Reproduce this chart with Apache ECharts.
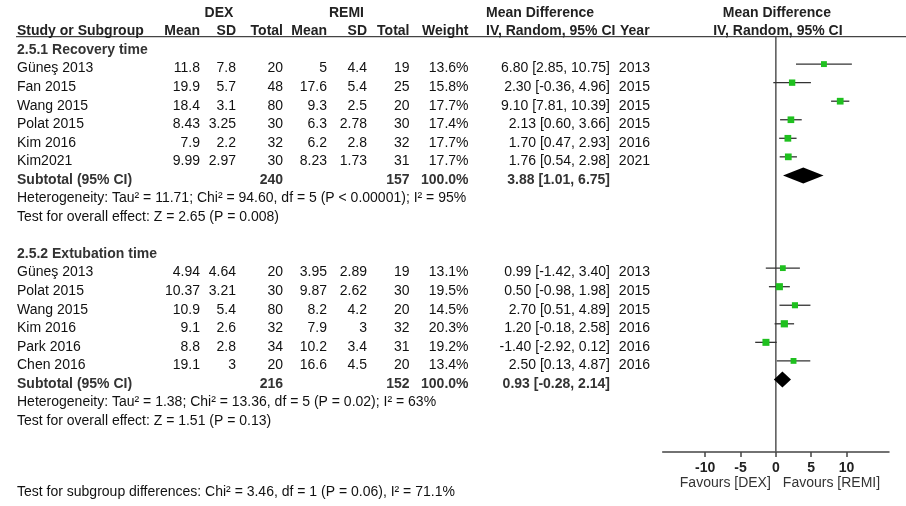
<!DOCTYPE html>
<html>
<head>
<meta charset="utf-8">
<script src="https://cdn.jsdelivr.net/npm/echarts@6/dist/echarts.min.js"></script>
<style>
html,body{margin:0;padding:0;background:#fff;}
#chart{width:906px;height:506px;}
</style>
</head>
<body>
<div id="chart"></div>
<script>
// ---------- data ----------
const groupHeaders = ['DEX', 'REMI'];
const colHeaders = ['Study or Subgroup', 'Mean', 'SD', 'Total', 'Mean', 'SD', 'Total', 'Weight', 'IV, Random, 95% CI', 'Year'];
const subgroupTitles = ['2.5.1 Recovery time', '2.5.2 Extubation time'];

const studies1 = ['Güneş 2013', 'Fan 2015', 'Wang 2015', 'Polat 2015', 'Kim 2016', 'Kim2021'];
const dexMean1 = [11.8, 19.9, 18.4, 8.43, 7.9, 9.99];
const dexSD1 = [7.8, 5.7, 3.1, 3.25, 2.2, 2.97];
const dexN1 = [20, 48, 80, 30, 32, 30];
const remiMean1 = [5, 17.6, 9.3, 6.3, 6.2, 8.23];
const remiSD1 = [4.4, 5.4, 2.5, 2.78, 2.8, 1.73];
const remiN1 = [19, 25, 20, 30, 32, 31];
const weight1 = [13.6, 15.8, 17.7, 17.4, 17.7, 17.7];
const md1 = [6.80, 2.30, 9.10, 2.13, 1.70, 1.76];
const lo1 = [2.85, -0.36, 7.81, 0.60, 0.47, 0.54];
const hi1 = [10.75, 4.96, 10.39, 3.66, 2.93, 2.98];
const year1 = [2013, 2015, 2015, 2015, 2016, 2021];

const studies2 = ['Güneş 2013', 'Polat 2015', 'Wang 2015', 'Kim 2016', 'Park 2016', 'Chen 2016'];
const dexMean2 = [4.94, 10.37, 10.9, 9.1, 8.8, 19.1];
const dexSD2 = [4.64, 3.21, 5.4, 2.6, 2.8, 3];
const dexN2 = [20, 30, 80, 32, 34, 20];
const remiMean2 = [3.95, 9.87, 8.2, 7.9, 10.2, 16.6];
const remiSD2 = [2.89, 2.62, 4.2, 3, 3.4, 4.5];
const remiN2 = [19, 30, 20, 32, 31, 20];
const weight2 = [13.1, 19.5, 14.5, 20.3, 19.2, 13.4];
const md2 = [0.99, 0.50, 2.70, 1.20, -1.40, 2.50];
const lo2 = [-1.42, -0.98, 0.51, -0.18, -2.92, 0.13];
const hi2 = [3.40, 1.98, 4.89, 2.58, 0.12, 4.87];
const year2 = [2013, 2015, 2015, 2016, 2016, 2016];

const subtotalNDex = [240, 216];
const subtotalNRemi = [157, 152];
const subtotalWeight = [100.0, 100.0];
const subtotalMD = [3.88, 0.93];
const subtotalLo = [1.01, -0.28];
const subtotalHi = [6.75, 2.14];
const heterogeneity = [
  'Heterogeneity: Tau² = 11.71; Chi² = 94.60, df = 5 (P < 0.00001); I² = 95%',
  'Heterogeneity: Tau² = 1.38; Chi² = 13.36, df = 5 (P = 0.02); I² = 63%'
];
const overallEffect = [
  'Test for overall effect: Z = 2.65 (P = 0.008)',
  'Test for overall effect: Z = 1.51 (P = 0.13)'
];
const subgroupTest = 'Test for subgroup differences: Chi² = 3.46, df = 1 (P = 0.06), I² = 71.1%';
const plotTitle = ['Mean Difference', 'IV, Random, 95% CI'];
const favours = ['Favours [DEX]', 'Favours [REMI]'];
const xTicks = [-10, -5, 0, 5, 10];

// ---------- layout ----------
const ROW0 = 50, ROWH = 18.55;          // pixel y of row 0 and row height
const PLOT_TOP = 0, PLOT_BOTTOM_Y = 452; // grid spans to axis line
const yMin = (PLOT_TOP - ROW0) / ROWH;
const yMax = (PLOT_BOTTOM_Y - ROW0) / ROWH;
const MARK_SHIFT = -0.24;               // marks sit slightly above text centre
const HEADER_LINE_R = (36.7 - ROW0) / ROWH;

const colX = { name: 17, dexMean: 200, dexSD: 236, dexN: 283, remiMean: 327, remiSD: 367, remiN: 409.5, weight: 468.5, ci: 610, year: 650 };
const groupStart = [0, 11];
const FONT = '"Liberation Sans", Arial, Helvetica, sans-serif';
const FS = 14;

const groups = [
  { studies: studies1, dm: dexMean1, ds: dexSD1, dn: dexN1, rm: remiMean1, rs: remiSD1, rn: remiN1, w: weight1, md: md1, lo: lo1, hi: hi1, yr: year1 },
  { studies: studies2, dm: dexMean2, ds: dexSD2, dn: dexN2, rm: remiMean2, rs: remiSD2, rn: remiN2, w: weight2, md: md2, lo: lo2, hi: hi2, yr: year2 }
];

function ciText(m, l, h) { return m.toFixed(2) + ' [' + l.toFixed(2) + ', ' + h.toFixed(2) + ']'; }

// table cells
const cells = [];
function cell(x, r, text, align, bold, color) { cells.push({ x, r, text: String(text), align: align || 'right', bold: !!bold, color: color || '#111' }); }

cell(219, -2, groupHeaders[0], 'center', true, '#222');
cell(346.5, -2, groupHeaders[1], 'center', true, '#222');
cell(486, -2, plotTitle[0], 'left', true, '#222');
cell(colX.name, -1, colHeaders[0], 'left', true, '#222');
cell(colX.dexMean, -1, colHeaders[1], 'right', true, '#222');
cell(colX.dexSD, -1, colHeaders[2], 'right', true, '#222');
cell(colX.dexN, -1, colHeaders[3], 'right', true, '#222');
cell(colX.remiMean, -1, colHeaders[4], 'right', true, '#222');
cell(colX.remiSD, -1, colHeaders[5], 'right', true, '#222');
cell(colX.remiN, -1, colHeaders[6], 'right', true, '#222');
cell(colX.weight, -1, colHeaders[7], 'right', true, '#222');
cell(486, -1, colHeaders[8], 'left', true, '#222');
cell(620, -1, colHeaders[9], 'left', true, '#222');

const studyMarks = [];
const diamonds = [];
groups.forEach((g, gi) => {
  const s = groupStart[gi];
  cell(colX.name, s, subgroupTitles[gi], 'left', true, '#333');
  g.studies.forEach((name, i) => {
    const r = s + 1 + i;
    cell(colX.name, r, name, 'left');
    cell(colX.dexMean, r, g.dm[i]);
    cell(colX.dexSD, r, g.ds[i]);
    cell(colX.dexN, r, g.dn[i]);
    cell(colX.remiMean, r, g.rm[i]);
    cell(colX.remiSD, r, g.rs[i]);
    cell(colX.remiN, r, g.rn[i]);
    cell(colX.weight, r, g.w[i].toFixed(1) + '%');
    cell(colX.ci, r, ciText(g.md[i], g.lo[i], g.hi[i]));
    cell(colX.year, r, g.yr[i]);
    studyMarks.push([g.md[i], g.lo[i], g.hi[i], r + MARK_SHIFT, g.w[i]]);
  });
  const rs = s + 7;
  cell(colX.name, rs, 'Subtotal (95% CI)', 'left', true, '#333');
  cell(colX.dexN, rs, subtotalNDex[gi], 'right', true, '#333');
  cell(colX.remiN, rs, subtotalNRemi[gi], 'right', true, '#333');
  cell(colX.weight, rs, subtotalWeight[gi].toFixed(1) + '%', 'right', true, '#333');
  cell(colX.ci, rs, ciText(subtotalMD[gi], subtotalLo[gi], subtotalHi[gi]), 'right', true, '#333');
  cell(colX.name, s + 8, heterogeneity[gi], 'left');
  cell(colX.name, s + 9, overallEffect[gi], 'left');
  diamonds.push([subtotalMD[gi], subtotalLo[gi], subtotalHi[gi], rs + MARK_SHIFT]);
});
cell(colX.name, 23.85, subgroupTest, 'left');

// texts placed relative to the plot's zero line
const plotTexts = [
  { v: 0, r: -2, dx: 1, text: plotTitle[0], align: 'center', bold: true },
  { v: 0, r: -1, dx: 2, text: plotTitle[1], align: 'center', bold: true },
  { v: 0, r: (483.3 - ROW0) / ROWH, dx: -5, text: favours[0], align: 'right', bold: false },
  { v: 0, r: (483.3 - ROW0) / ROWH, dx: 7, text: favours[1], align: 'left', bold: false }
];

const chart = echarts.init(document.getElementById('chart'), null, { renderer: 'canvas' });

const option = {
  animation: false,
  backgroundColor: '#fff',
  grid: { left: 662.7, right: 17, top: PLOT_TOP, bottom: 506 - PLOT_BOTTOM_Y, containLabel: false },
  xAxis: {
    type: 'value', min: -16, max: 16,
    axisLine: { show: true, onZero: false, lineStyle: { color: '#444', width: 1.5 } },
    axisTick: { show: true, length: 5, customValues: xTicks, lineStyle: { color: '#444', width: 1.5 } },
    axisLabel: { show: true, customValues: xTicks, margin: 9, fontSize: 14, fontWeight: 'bold', color: '#222', fontFamily: FONT },
    splitLine: { show: false }
  },
  yAxis: { type: 'value', inverse: true, min: yMin, max: yMax, show: false },
  series: [
    {
      type: 'custom', silent: true, clip: false,
      data: [[0, HEADER_LINE_R, yMax]],
      renderItem: function (params, api) {
        const top = api.coord([0, api.value(1)]);
        const bot = api.coord([0, api.value(2)]);
        return {
          type: 'group',
          children: [
            { type: 'line', shape: { x1: 16, y1: top[1], x2: 906, y2: top[1] }, style: { stroke: '#444', lineWidth: 1.3 } },
            { type: 'line', shape: { x1: top[0], y1: top[1], x2: bot[0], y2: bot[1] }, style: { stroke: '#555', lineWidth: 1.5 } }
          ]
        };
      }
    },
    {
      type: 'custom', silent: true, clip: false,
      data: studyMarks,
      renderItem: function (params, api) {
        const m = api.coord([api.value(0), api.value(3)]);
        const l = api.coord([api.value(1), api.value(3)]);
        const h = api.coord([api.value(2), api.value(3)]);
        const size = 1.6 * Math.sqrt(api.value(4));
        return {
          type: 'group',
          children: [
            { type: 'line', shape: { x1: l[0], y1: l[1], x2: h[0], y2: h[1] }, style: { stroke: '#333', lineWidth: 1.3 } },
            { type: 'rect', shape: { x: m[0] - size / 2, y: m[1] - size / 2, width: size, height: size }, style: { fill: '#1fc01f' } }
          ]
        };
      }
    },
    {
      type: 'custom', silent: true, clip: false,
      data: diamonds,
      renderItem: function (params, api) {
        const m = api.coord([api.value(0), api.value(3)]);
        const l = api.coord([api.value(1), api.value(3)]);
        const h = api.coord([api.value(2), api.value(3)]);
        const hh = 8;
        return {
          type: 'polygon',
          shape: { points: [[l[0], m[1]], [m[0], m[1] - hh], [h[0], m[1]], [m[0], m[1] + hh]] },
          style: { fill: '#000' }
        };
      }
    },
    {
      type: 'custom', silent: true, clip: false,
      data: cells.map(c => [0, c.r]),
      renderItem: function (params, api) {
        const c = cells[params.dataIndex];
        const p = api.coord([0, api.value(1)]);
        return {
          type: 'text',
          style: {
            x: c.x, y: p[1], text: c.text, align: c.align, verticalAlign: 'middle',
            fontSize: FS, fontFamily: FONT, fontWeight: c.bold ? 'bold' : 'normal', fill: c.color
          }
        };
      }
    },
    {
      type: 'custom', silent: true, clip: false,
      data: plotTexts.map(t => [t.v, t.r]),
      renderItem: function (params, api) {
        const t = plotTexts[params.dataIndex];
        const p = api.coord([api.value(0), api.value(1)]);
        return {
          type: 'text',
          style: {
            x: p[0] + t.dx, y: p[1], text: t.text, align: t.align, verticalAlign: 'middle',
            fontSize: FS, fontFamily: FONT, fontWeight: t.bold ? 'bold' : 'normal', fill: t.bold ? '#222' : '#333'
          }
        };
      }
    }
  ]
};
chart.setOption(option);
</script>
</body>
</html>
